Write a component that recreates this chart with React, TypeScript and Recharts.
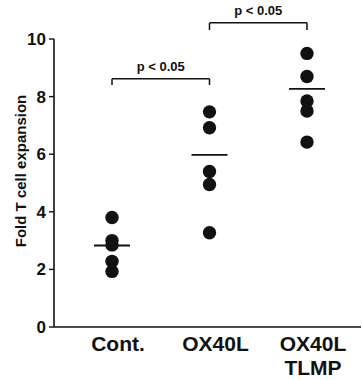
import React from 'react';
import { ScatterChart, Scatter, XAxis, YAxis, ReferenceLine } from 'recharts';

const categories = ['Cont.', 'OX40L', 'OX40L\nTLMP'];
const contValues = [3.8, 3.0, 2.85, 2.28, 1.93];
const ox40lValues = [7.47, 6.92, 5.4, 4.95, 3.27];
const tlmpValues = [9.5, 8.7, 7.85, 7.5, 6.42];
const groupMeans = [2.83, 5.98, 8.27];
const yTicks = [0, 2, 4, 6, 8, 10];
const brackets = [
  { from: 1, to: 2, top: 8.62, foot: 8.4, text: 'p < 0.05' },
  { from: 2, to: 3, top: 10.56, foot: 10.31, text: 'p < 0.05' },
];

const FONT = '"Liberation Sans", Arial, sans-serif';
const INK = '#111';

const toPoints = (vals: number[], x: number) => vals.map((v) => ({ x, y: v }));
const groups = [contValues, ox40lValues, tlmpValues];
const meanData = groupMeans.map((m, i) => ({ x: i + 1, y: m }));

const Dot = (props: any) => {
  const { cx, cy } = props;
  if (cx == null || cy == null) return null;
  return <circle cx={cx} cy={cy} r={6.7} fill={INK} />;
};

const MeanBar = (props: any) => {
  const { cx, cy } = props;
  if (cx == null || cy == null) return null;
  return <line x1={cx - 18} x2={cx + 18} y1={cy} y2={cy} stroke={INK} strokeWidth={1.8} />;
};

const XTick = (props: any) => {
  const { x, y, payload } = props;
  const label = categories[Math.round(payload.value) - 1] || '';
  const lines = label.split('\n');
  return (
    <g transform={`translate(${x + 6},${y})`}>
      {lines.map((l, i) => (
        <text key={i} x={0} y={24 + i * 24} textAnchor="middle" fontFamily={FONT} fontWeight="bold" fontSize={21} fill={INK}>
          {l}
        </text>
      ))}
    </g>
  );
};

export default function App() {
  return (
    <div style={{ position: 'absolute', left: 0, top: 0, background: '#fff' }}>
      <ScatterChart width={362} height={380} margin={{ top: 39, right: 1, bottom: 0, left: 0 }}>
        <XAxis
          type="number"
          dataKey="x"
          domain={[0.405, 3.554]}
          ticks={[1, 2, 3]}
          tick={<XTick />}
          tickLine={false}
          tickSize={0}
          tickMargin={0}
          height={53}
          axisLine={{ stroke: INK, strokeWidth: 1.6 }}
          allowDataOverflow
        />
        <YAxis
          type="number"
          dataKey="y"
          domain={[0, 10]}
          ticks={yTicks}
          width={54}
          tickSize={5}
          tickMargin={3}
          tick={{ fontFamily: FONT, fontWeight: 'bold', fontSize: 17, fill: INK }}
          tickLine={{ stroke: INK, strokeWidth: 1.4 }}
          axisLine={{ stroke: INK, strokeWidth: 1.6 }}
          allowDataOverflow
          label={{
            content: () => (
              <text
                x={20}
                y={171}
                transform="rotate(-90, 20, 171)"
                textAnchor="middle"
                dominantBaseline="central"
                fontFamily={FONT}
                fontWeight="bold"
                fontSize={15}
                fill={INK}
              >
                Fold T cell expansion
              </text>
            ),
          }}
        />
        {groups.map((vals, i) => (
          <Scatter key={i} data={toPoints(vals, i + 1)} shape={<Dot />} isAnimationActive={false} />
        ))}
        <Scatter data={meanData} shape={<MeanBar />} isAnimationActive={false} />
        {brackets.map((b, i) => (
          <ReferenceLine
            key={`h${i}`}
            segment={[{ x: b.from, y: b.top }, { x: b.to, y: b.top }]}
            stroke={INK}
            strokeWidth={1.5}
            ifOverflow="visible"
            label={{ value: b.text, position: 'top', offset: 8, fontFamily: FONT, fontWeight: 'bold', fontSize: 13, fill: INK }}
          />
        ))}
        {brackets.map((b, i) => (
          <ReferenceLine
            key={`l${i}`}
            segment={[{ x: b.from, y: b.top }, { x: b.from, y: b.foot }]}
            stroke={INK}
            strokeWidth={1.5}
            ifOverflow="visible"
          />
        ))}
        {brackets.map((b, i) => (
          <ReferenceLine
            key={`r${i}`}
            segment={[{ x: b.to, y: b.top }, { x: b.to, y: b.foot }]}
            stroke={INK}
            strokeWidth={1.5}
            ifOverflow="visible"
          />
        ))}
      </ScatterChart>
    </div>
  );
}
